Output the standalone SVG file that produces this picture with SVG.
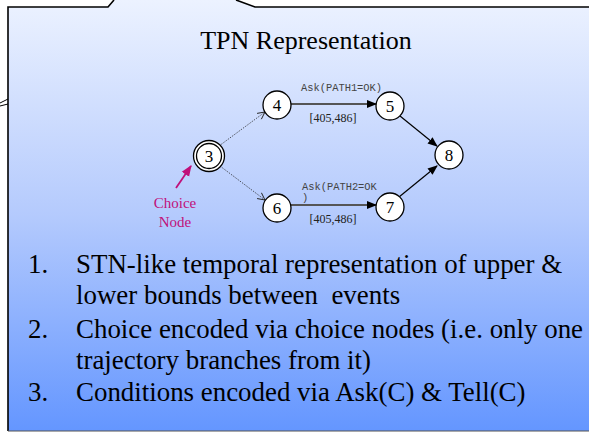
<svg xmlns="http://www.w3.org/2000/svg" width="589" height="432" viewBox="0 0 589 432">
  <defs>
    <linearGradient id="panelFill" x1="0" y1="0" x2="0" y2="1">
      <stop offset="0" stop-color="#ECF2FF"/>
      <stop offset="0.5" stop-color="#B4CAFD"/>
      <stop offset="1" stop-color="#6496FF"/>
    </linearGradient>
    <marker id="openHead" viewBox="0 0 10 10" refX="9" refY="5" markerWidth="9" markerHeight="9" markerUnits="userSpaceOnUse" orient="auto">
      <path d="M1,1 L9,5 L1,9" fill="none" stroke="#222" stroke-width="1"/>
    </marker>
    <marker id="solidHead" viewBox="0 0 10 10" refX="9" refY="5" markerWidth="10" markerHeight="10" markerUnits="userSpaceOnUse" orient="auto">
      <path d="M0,1 L10,5 L0,9 Z" fill="#000"/>
    </marker>
    <marker id="choiceHead" viewBox="0 0 10 10" refX="9" refY="5" markerWidth="11" markerHeight="11" markerUnits="userSpaceOnUse" orient="auto">
      <path d="M0,1 L10,5 L0,9 Z" fill="#C0107A"/>
    </marker>
  </defs>
  <style>
    .node circle { fill: #fff; stroke: #000; stroke-width: 1.3; }
    .node text { font-family: "Liberation Serif", "Times New Roman", serif; font-size: 17px; fill: #000; text-anchor: middle; }
    .dotted { fill: none; stroke: #222; stroke-width: 0.9; stroke-dasharray: 1 1.3; marker-end: url(#openHead); }
    .bound { fill: none; stroke: #555; stroke-width: 2; marker-end: url(#solidHead); }
    .join { fill: none; stroke: #000; stroke-width: 1.2; marker-end: url(#solidHead); }
    .ask { font-family: "Liberation Mono", "Courier New", monospace; font-size: 10.4px; fill: #444; }
    .range { font-family: "Liberation Serif", "Times New Roman", serif; font-size: 12px; fill: #222; text-anchor: middle; }
    .title { font-family: "Liberation Serif", "Times New Roman", serif; font-size: 26px; fill: #000; text-anchor: middle; }
    .body { font-family: "Liberation Serif", "Times New Roman", serif; font-size: 26.9px; fill: #000; }
    .choice { font-family: "Liberation Serif", "Times New Roman", serif; font-size: 15px; fill: #C0107A; text-anchor: middle; }
  </style>

  <!-- slide panel with callout pointers -->
  <rect x="0" y="0" width="589" height="432" fill="#fff"/>
  <path d="M8,7 L108,7 L114,0 L236,0 L255,7 L589,7 L589,431 L8,431 Z" fill="url(#panelFill)"/>
  <path d="M8,431 L8,7 L108,7 L114,0 M236,0 L255,7 L589,7" fill="none" stroke="#000" stroke-width="1.6"/>
  <path d="M8,99 L0,103 M0,106 L8,104" fill="none" stroke="#000" stroke-width="1"/>
  <path d="M8,431 L589,431" fill="none" stroke="#555" stroke-width="1"/>

  <text class="title" x="306" y="49">TPN Representation</text>

  <!-- connectors -->
  <g id="connectors">
    <path class="dotted" d="M219,146 L265,112"/>
    <path class="dotted" d="M220,166 L265,200"/>
    <path class="bound" d="M291,104 L376,104"/>
    <path class="bound" d="M291,205 L376,205"/>
    <path class="join" d="M400,116 L437,146"/>
    <path class="join" d="M399,197 L437,166"/>
    <path d="M176,188 L191,166" fill="none" stroke="#C0107A" stroke-width="1.8" marker-end="url(#choiceHead)"/>
  </g>

  <!-- edge labels -->
  <text class="ask" x="301" y="91">Ask(PATH1=OK)</text>
  <text class="range" x="333" y="122">[405,486]</text>
  <text class="ask" x="302" y="190">Ask(PATH2=OK</text>
  <text class="ask" x="302" y="201">)</text>
  <text class="range" x="333" y="223">[405,486]</text>

  <!-- nodes -->
  <g id="node3" class="node">
    <circle cx="209" cy="156" r="15.5"/>
    <circle cx="209" cy="156" r="12.5"/>
    <text x="209" y="162">3</text>
  </g>
  <g id="node4" class="node">
    <circle cx="277" cy="105" r="14"/>
    <text x="277" y="111">4</text>
  </g>
  <g id="node5" class="node">
    <circle cx="390" cy="106" r="14"/>
    <text x="390" y="112">5</text>
  </g>
  <g id="node6" class="node">
    <circle cx="277" cy="208" r="14"/>
    <text x="277" y="214">6</text>
  </g>
  <g id="node7" class="node">
    <circle cx="390" cy="207" r="14"/>
    <text x="390" y="213">7</text>
  </g>
  <g id="node8" class="node">
    <circle cx="449" cy="155" r="14"/>
    <text x="449" y="161">8</text>
  </g>

  <g id="choice-label">
    <text class="choice" x="175" y="208">Choice</text>
    <text class="choice" x="175" y="227">Node</text>
  </g>

  <!-- bullet list -->
  <g id="notes" class="body">
    <text x="28" y="273">1.</text>
    <text x="76" y="273">STN-like temporal representation of upper &amp;</text>
    <text x="76" y="304" xml:space="preserve">lower bounds between  events</text>
    <text x="28" y="338">2.</text>
    <text x="76" y="338">Choice encoded via choice nodes (i.e. only one</text>
    <text x="76" y="369">trajectory branches from it)</text>
    <text x="28" y="401">3.</text>
    <text x="76" y="401">Conditions encoded via Ask(C) &amp; Tell(C)</text>
  </g>
</svg>
